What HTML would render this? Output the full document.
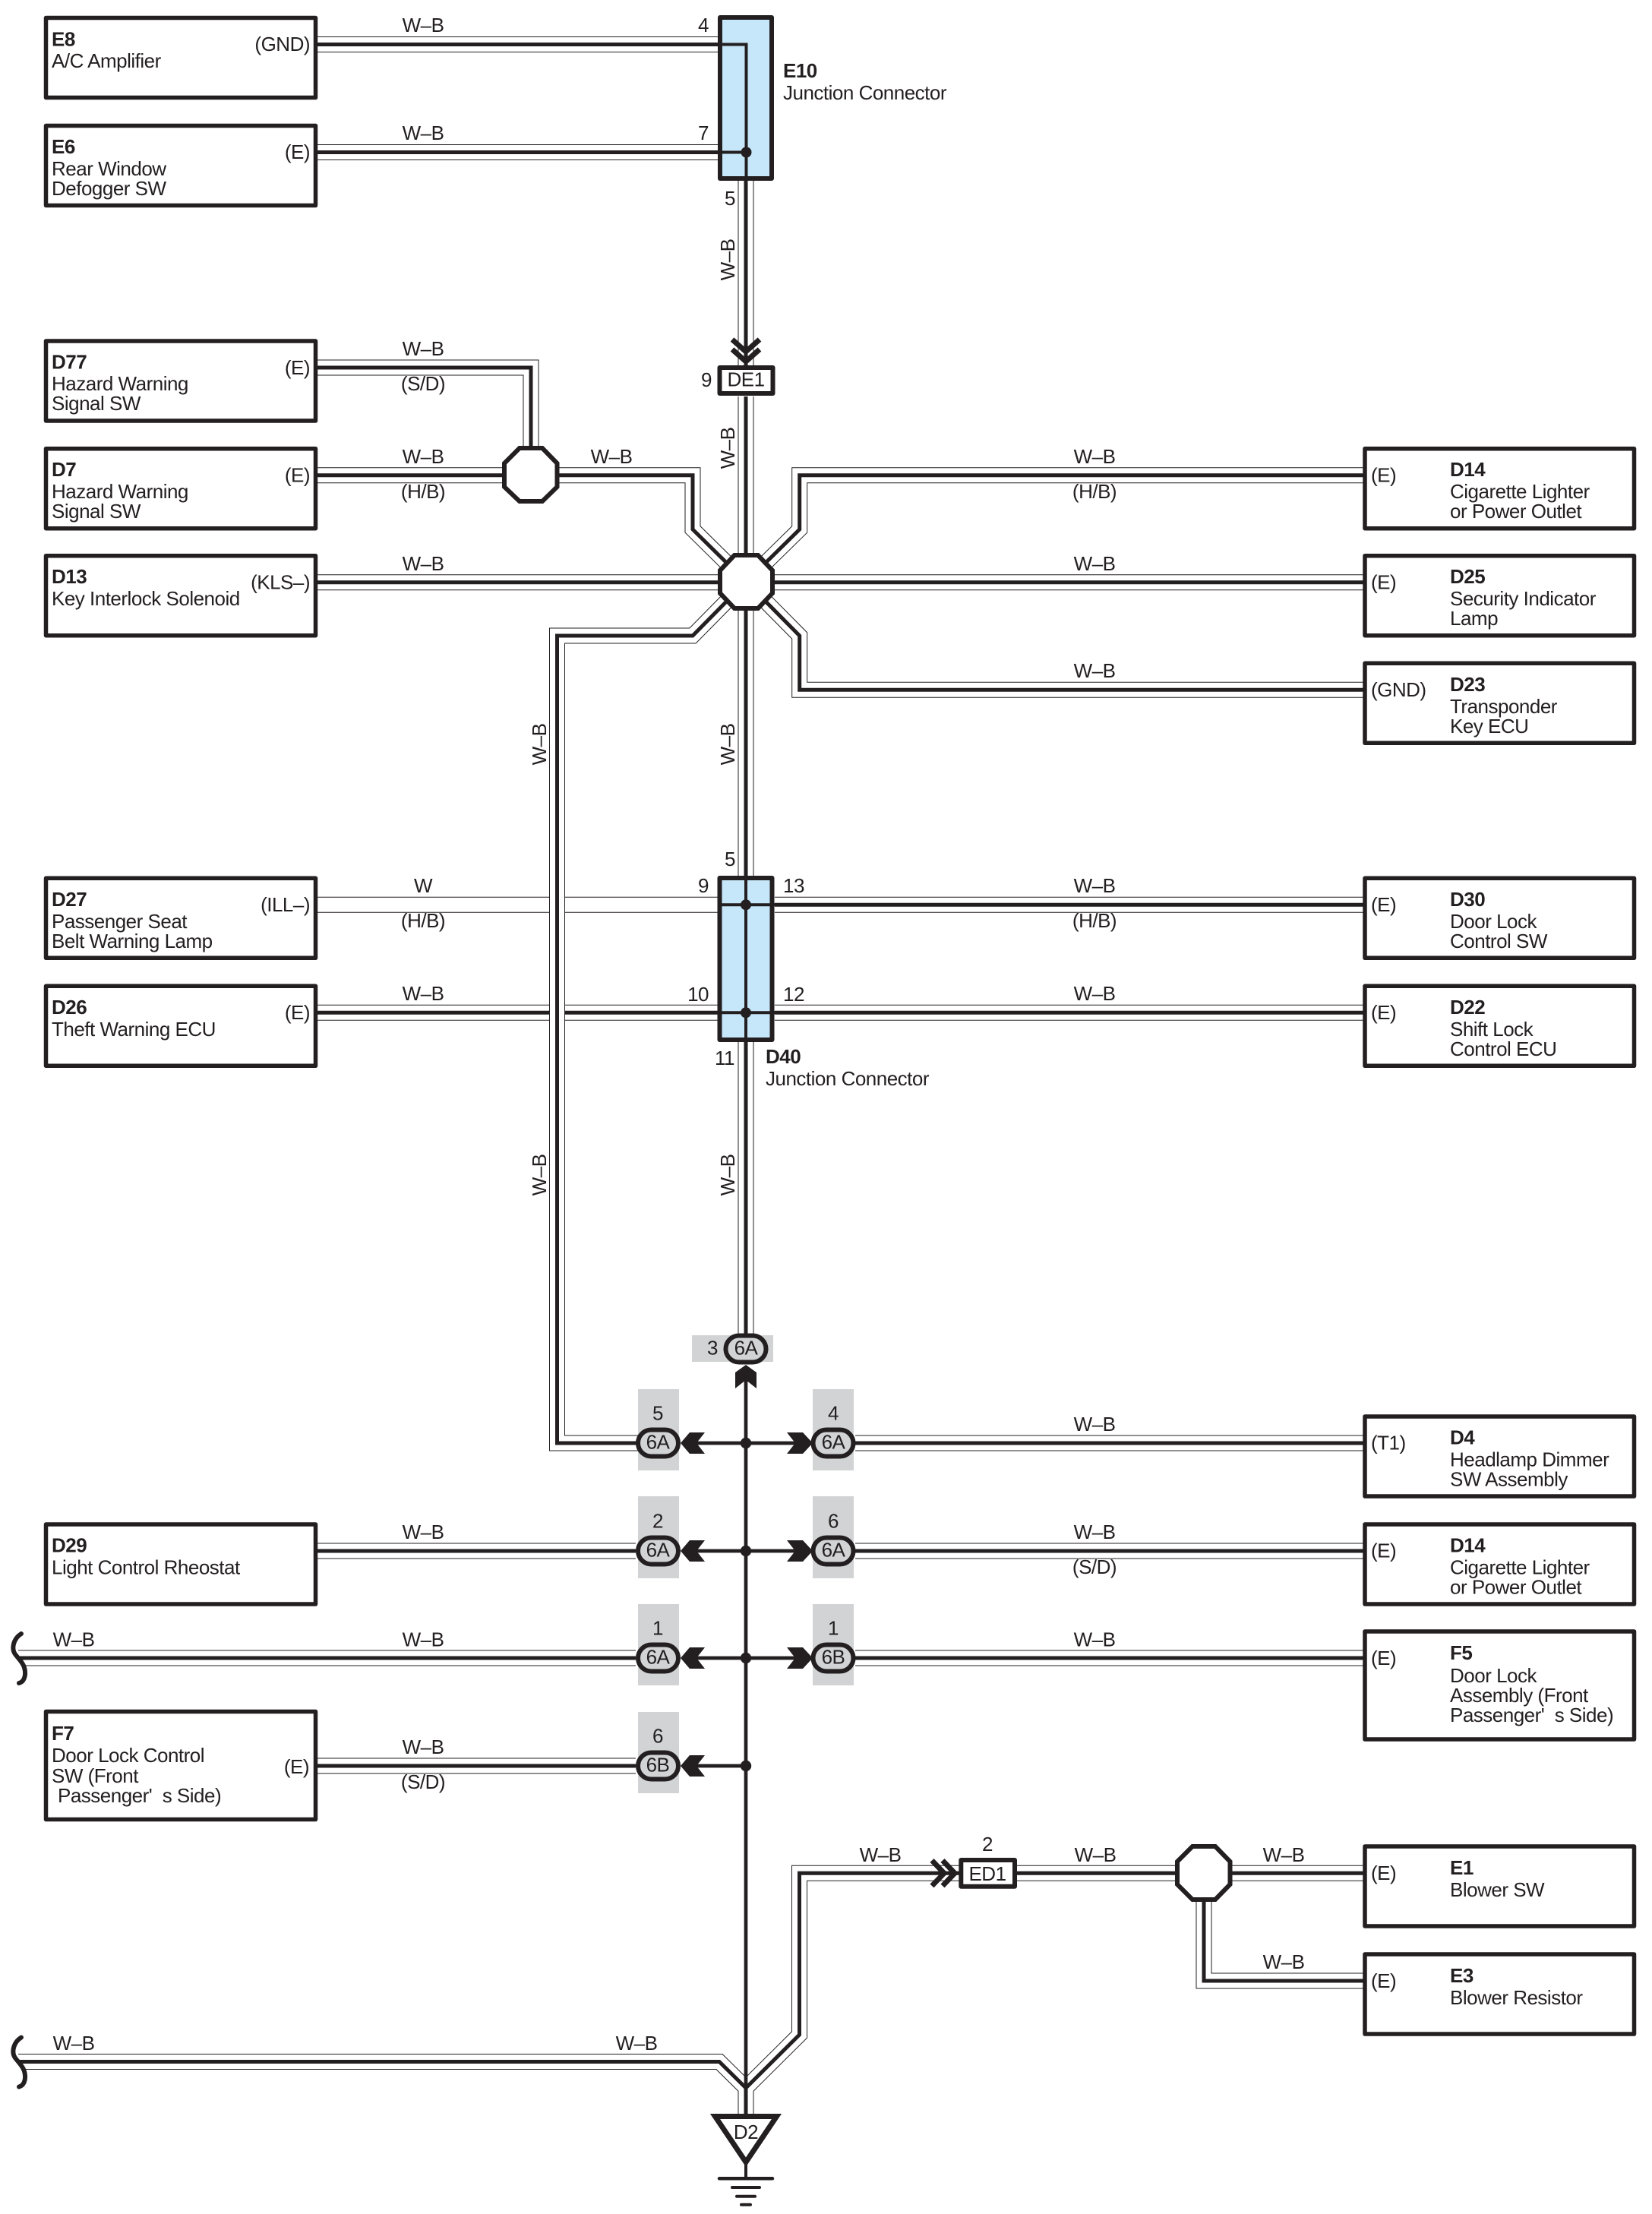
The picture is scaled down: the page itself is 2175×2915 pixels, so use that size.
<!DOCTYPE html>
<html>
<head>
<meta charset="utf-8">
<title>Wiring Diagram</title>
<style>
html,body{margin:0;padding:0;background:#fff}
svg{display:block}
text{font-family:"Liberation Sans",sans-serif;font-size:26px;fill:#231f20;letter-spacing:-.5px}
.b{font-weight:bold}
.m{text-anchor:middle}
.e{text-anchor:end}
.box{fill:#fff;stroke:#231f20;stroke-width:5.5;stroke-linejoin:round}
.jc{fill:#c6e7f9;stroke:#231f20;stroke-width:6;stroke-linejoin:round}
.oct{fill:#fff;stroke:#231f20;stroke-width:6;stroke-linejoin:miter}
.ov{fill:#d1d3d4;stroke:#231f20;stroke-width:6}
.g{fill:#d1d3d4}
.ar{fill:#231f20;stroke:none}
.tw{fill:none;stroke:#231f20;stroke-width:4}
.br{fill:none;stroke:#231f20;stroke-width:4.7}
.ch{fill:none;stroke:#231f20;stroke-width:7}
.d{fill:#231f20}
.gr{stroke:#231f20;stroke-linecap:round;fill:none}
</style>
</head>
<body>
<svg xmlns="http://www.w3.org/2000/svg" width="2175" height="2915" viewBox="0 0 2175 2915">
<rect width="2175" height="2915" fill="#fff"/>
<defs>
<g id="wa">
<path d="M416 58.5H945"/>
<path d="M416 200.5H945"/>
<path d="M982 238V481"/>
<path d="M982 522V1153"/>
<path d="M982 1372V1756"/>
<path d="M416 484H699V590"/>
<path d="M416 625.7H662"/>
<path d="M736 625.7H912V697L982 766"/>
<path d="M416 766.7H1796"/>
<path d="M1796 625.7H1052.7V697L982.5 766"/>
<path d="M1796 908.3H1052.7V837L982.5 766"/>
<path d="M1020 1191.3H1796"/>
<path d="M416 1333.3H945"/>
<path d="M1020 1333.3H1796"/>
<path d="M1126 1900H1796"/>
<path d="M416 2042H837"/>
<path d="M1126 2042H1796"/>
<path d="M24 2183H837"/>
<path d="M1126 2183H1796"/>
<path d="M416 2325H837"/>
<path d="M1270 2466.3H1052.5V2679L982 2749V2783"/>
<path d="M24 2714.500H947L982 2749V2783"/>
<path d="M1339 2466.3H1796"/>
<path d="M1585 2500V2608H1796"/>
</g>
<g id="wb">
<path d="M982 766L912 837H733.5V1900H840"/>
</g>
</defs>

<!-- D27 white wire -->
<path d="M416 1191.3H945" fill="none" stroke="#231f20" stroke-width="21"/>
<path d="M416 1191.3H945" fill="none" stroke="#fff" stroke-width="19"/>

<!-- wire group A -->
<use href="#wa" fill="none" stroke="#231f20" stroke-width="21"/>
<use href="#wa" fill="none" stroke="#fff" stroke-width="19"/>
<use href="#wa" fill="none" stroke="#231f20" stroke-width="5"/>
<!-- wire group B (crosses over) -->
<use href="#wb" fill="none" stroke="#231f20" stroke-width="21"/>
<use href="#wb" fill="none" stroke="#fff" stroke-width="19"/>
<use href="#wb" fill="none" stroke="#231f20" stroke-width="5"/>

<!-- left boxes -->
<rect class="box" x="60.5" y="23.5" width="355" height="105"/>
<rect class="box" x="60.5" y="165.5" width="355" height="105"/>
<rect class="box" x="60.5" y="449" width="355" height="105"/>
<rect class="box" x="60.5" y="590.7" width="355" height="105"/>
<rect class="box" x="60.5" y="731.7" width="355" height="105"/>
<rect class="box" x="60.5" y="1156.3" width="355" height="105"/>
<rect class="box" x="60.5" y="1298.3" width="355" height="105"/>
<rect class="box" x="60.5" y="2007" width="355" height="105"/>
<rect class="box" x="60.5" y="2253.5" width="355" height="142"/>
<!-- right boxes -->
<rect class="box" x="1797" y="590.7" width="354.500" height="105"/>
<rect class="box" x="1797" y="731.7" width="354.500" height="105"/>
<rect class="box" x="1797" y="873.3" width="354.500" height="105"/>
<rect class="box" x="1797" y="1156.3" width="354.500" height="105"/>
<rect class="box" x="1797" y="1298.3" width="354.500" height="105"/>
<rect class="box" x="1797" y="1865" width="354.500" height="105"/>
<rect class="box" x="1797" y="2007" width="354.500" height="105"/>
<rect class="box" x="1797" y="2148" width="354.500" height="142"/>
<rect class="box" x="1797" y="2431" width="354.500" height="105"/>
<rect class="box" x="1797" y="2573" width="354.500" height="105"/>

<!-- E10 -->
<rect class="jc" x="948" y="23" width="68" height="212"/>
<path class="tw" d="M945 58.5H982.5V238M945 200.5H982.5"/>
<circle class="d" cx="982.5" cy="200.5" r="7"/>
<!-- D40 -->
<rect class="jc" x="947.5" y="1156" width="69" height="213"/>
<path class="tw" d="M982 1153V1372M945 1191.3H1020M945 1333.3H1020"/>
<circle class="d" cx="982" cy="1191.3" r="7"/>
<circle class="d" cx="982" cy="1333.3" r="7"/>

<!-- DE1 -->
<path class="ch" d="M964 447L982 463L1000 447M964 460L982 476L1000 460"/>
<rect class="box" x="947.500" y="484" width="70" height="34" style="stroke-width:6"/>
<text class="m" x="982" y="508.500">DE1</text>

<!-- ED1 -->
<path class="ch" d="M1227 2449.500L1243 2466.300L1227 2483M1241 2449.500L1257 2466.300L1241 2483"/>
<rect class="box" x="1265.300" y="2449" width="70.700" height="34.700" style="stroke-width:6"/>
<text class="m" x="1300" y="2476">ED1</text>
<text class="m" x="1300" y="2437">2</text>

<!-- octagons -->
<polygon class="oct" points="684,590 714,590 733.500,610 733.500,641 714,660 684,660 664,641 664,610"/>
<polygon class="oct" points="967,731 998,731 1017,751 1017,781 998,801 967,801 948,781 948,751"/>
<polygon class="oct" points="1570,2431 1600,2431 1619.500,2451 1619.500,2481 1600,2501 1570,2501 1550,2481 1550,2451"/>

<!-- trunk below 6A -->
<path d="M982 1815V2750" fill="none" stroke="#231f20" stroke-width="4.700"/>

<!-- gray backgrounds -->
<rect class="g" x="911" y="1758" width="107" height="35"/>
<rect class="g" x="840" y="1829" width="54" height="107"/>
<rect class="g" x="840" y="1970" width="54" height="108"/>
<rect class="g" x="840" y="2112" width="54" height="107"/>
<rect class="g" x="840" y="2254" width="54" height="107"/>
<rect class="g" x="1070" y="1829" width="54" height="107"/>
<rect class="g" x="1070" y="1970" width="54" height="108"/>
<rect class="g" x="1070" y="2112" width="54" height="107"/>

<!-- ovals -->
<rect class="ov" x="955.500" y="1758.500" width="53" height="35" rx="17.500"/>
<rect class="ov" x="840" y="1882.500" width="53" height="35" rx="17.500"/>
<rect class="ov" x="840" y="2024.500" width="53" height="35" rx="17.500"/>
<rect class="ov" x="840" y="2165.500" width="53" height="35" rx="17.500"/>
<rect class="ov" x="840" y="2307.500" width="53" height="35" rx="17.500"/>
<rect class="ov" x="1070.500" y="1882.500" width="53" height="35" rx="17.500"/>
<rect class="ov" x="1070.500" y="2024.500" width="53" height="35" rx="17.500"/>
<rect class="ov" x="1070.500" y="2165.500" width="53" height="35" rx="17.500"/>

<!-- branch wires + arrows + dots -->
<path class="br" d="M915 1900H1050M915 2042H1050M915 2183H1050M915 2325H982"/>
<polygon class="ar" points="982,1797 996,1807 996,1828 982,1817 968,1828 968,1807"/>
<polygon class="ar" points="896,1900 908,1886 928,1886 917,1900 928,1914 908,1914"/>
<polygon class="ar" points="896,2042 908,2028 928,2028 917,2042 928,2056 908,2056"/>
<polygon class="ar" points="896,2183 908,2169 928,2169 917,2183 928,2197 908,2197"/>
<polygon class="ar" points="896,2325 908,2311 928,2311 917,2325 928,2339 908,2339"/>
<polygon class="ar" points="1070,1900 1057,1886 1036,1886 1047,1900 1036,1914 1057,1914"/>
<polygon class="ar" points="1070,2042 1057,2028 1036,2028 1047,2042 1036,2056 1057,2056"/>
<polygon class="ar" points="1070,2183 1057,2169 1036,2169 1047,2183 1036,2197 1057,2197"/>
<circle class="d" cx="982" cy="1900" r="7.200"/>
<circle class="d" cx="982" cy="2042" r="7.200"/>
<circle class="d" cx="982" cy="2183" r="7.200"/>
<circle class="d" cx="982" cy="2325" r="7.200"/>

<!-- connector labels -->
<text class="m" x="982" y="1783.500">6A</text>
<text class="m" x="938" y="1783.500">3</text>
<text class="m" x="866" y="1907.500">6A</text>
<text class="m" x="866" y="1869.500">5</text>
<text class="m" x="866" y="2049.500">6A</text>
<text class="m" x="866" y="2011.500">2</text>
<text class="m" x="866" y="2190.500">6A</text>
<text class="m" x="866" y="2152.500">1</text>
<text class="m" x="866" y="2332.500">6B</text>
<text class="m" x="866" y="2294.500">6</text>
<text class="m" x="1097" y="1907.500">6A</text>
<text class="m" x="1097" y="1869.500">4</text>
<text class="m" x="1097" y="2049.500">6A</text>
<text class="m" x="1097" y="2011.500">6</text>
<text class="m" x="1097" y="2190.500">6B</text>
<text class="m" x="1097" y="2152.500">1</text>

<!-- ground -->
<polygon points="941.500,2786.500 1022.500,2786.500 982,2846.700" fill="#fff" stroke="#231f20" stroke-width="7" stroke-linejoin="miter"/>
<text class="m" x="982" y="2816">D2</text>
<path d="M982 2848V2868" fill="none" stroke="#231f20" stroke-width="4"/>
<path class="gr" stroke-width="4.500" d="M947 2868.300H1017"/>
<path class="gr" stroke-width="4" d="M964 2880H1000M970 2891.700H994M976 2902.700H988"/>

<!-- break curves -->
<path d="M10 2150H28C17 2158 15 2171 20 2178C26 2186 34 2192 33 2205C32 2212 29 2215 25 2216H10Z" fill="#fff"/>
<path d="M28 2151C17 2158 15 2171 20 2178C26 2186 34 2192 33 2205C32 2212 29 2215 25 2216" fill="none" stroke="#231f20" stroke-width="6" stroke-linecap="round"/>
<path d="M10 2681.500H28C17 2689.500 15 2702.500 20 2709.500C26 2717.500 34 2723.500 33 2736.500C32 2743.500 29 2746.500 25 2747.500H10Z" fill="#fff"/>
<path d="M28 2682.500C17 2689.500 15 2702.500 20 2709.500C26 2717.500 34 2723.500 33 2736.500C32 2743.500 29 2746.500 25 2747.500" fill="none" stroke="#231f20" stroke-width="6" stroke-linecap="round"/>

<!-- left box texts -->
<text class="b" x="68" y="60.500">E8</text>
<text x="68" y="89">A/C Amplifier</text>
<text class="e" x="408" y="67">(GND)</text>

<text class="b" x="68" y="202">E6</text>
<text x="68" y="231">Rear Window</text>
<text x="68" y="257">Defogger SW</text>
<text class="e" x="408" y="209">(E)</text>

<text class="b" x="68" y="485.500">D77</text>
<text x="68" y="514">Hazard Warning</text>
<text x="68" y="540">Signal SW</text>
<text class="e" x="408" y="493">(E)</text>

<text class="b" x="68" y="627">D7</text>
<text x="68" y="656">Hazard Warning</text>
<text x="68" y="682">Signal SW</text>
<text class="e" x="408" y="634.500">(E)</text>

<text class="b" x="68" y="768">D13</text>
<text x="68" y="797">Key Interlock Solenoid</text>
<text class="e" x="408" y="775.500">(KLS–)</text>

<text class="b" x="68" y="1193">D27</text>
<text x="68" y="1222">Passenger Seat</text>
<text x="68" y="1248">Belt Warning Lamp</text>
<text class="e" x="408" y="1200">(ILL–)</text>

<text class="b" x="68" y="1335">D26</text>
<text x="68" y="1364">Theft Warning ECU</text>
<text class="e" x="408" y="1342">(E)</text>

<text class="b" x="68" y="2043.500">D29</text>
<text x="68" y="2072.500">Light Control Rheostat</text>

<text class="b" x="68" y="2291">F7</text>
<text x="68" y="2320">Door Lock Control</text>
<text x="68" y="2347">SW (Front</text>
<text x="76" y="2373">Passenger'&#160;&#160;s Side)</text>
<text class="e" x="407" y="2335">(E)</text>

<!-- right box texts -->
<text class="b" x="1909" y="627">D14</text>
<text x="1909" y="656">Cigarette Lighter</text>
<text x="1909" y="682">or Power Outlet</text>
<text x="1805" y="634.500">(E)</text>

<text class="b" x="1909" y="768">D25</text>
<text x="1909" y="797">Security Indicator</text>
<text x="1909" y="823">Lamp</text>
<text x="1805" y="775.500">(E)</text>

<text class="b" x="1909" y="910">D23</text>
<text x="1909" y="939">Transponder</text>
<text x="1909" y="965">Key ECU</text>
<text x="1805" y="917">(GND)</text>

<text class="b" x="1909" y="1193">D30</text>
<text x="1909" y="1222">Door Lock</text>
<text x="1909" y="1248">Control SW</text>
<text x="1805" y="1200">(E)</text>

<text class="b" x="1909" y="1335">D22</text>
<text x="1909" y="1364">Shift Lock</text>
<text x="1909" y="1390">Control ECU</text>
<text x="1805" y="1342">(E)</text>

<text class="b" x="1909" y="1901.500">D4</text>
<text x="1909" y="1930.500">Headlamp Dimmer</text>
<text x="1909" y="1956.500">SW Assembly</text>
<text x="1805" y="1908.500">(T1)</text>

<text class="b" x="1909" y="2043.500">D14</text>
<text x="1909" y="2072.500">Cigarette Lighter</text>
<text x="1909" y="2098.500">or Power Outlet</text>
<text x="1805" y="2050.500">(E)</text>

<text class="b" x="1909" y="2185">F5</text>
<text x="1909" y="2215">Door Lock</text>
<text x="1909" y="2241">Assembly (Front</text>
<text x="1909" y="2267">Passenger'&#160;&#160;s Side)</text>
<text x="1805" y="2192">(E)</text>

<text class="b" x="1909" y="2468">E1</text>
<text x="1909" y="2497">Blower SW</text>
<text x="1805" y="2475">(E)</text>

<text class="b" x="1909" y="2610">E3</text>
<text x="1909" y="2639">Blower Resistor</text>
<text x="1805" y="2617">(E)</text>

<!-- junction labels -->
<text class="b" x="1031" y="102">E10</text>
<text x="1031" y="131">Junction Connector</text>
<text class="b" x="1008" y="1400">D40</text>
<text x="1008" y="1429">Junction Connector</text>

<!-- pin numbers -->
<text class="e" x="933" y="42">4</text>
<text class="e" x="933" y="184">7</text>
<text class="e" x="968" y="270">5</text>
<text class="e" x="937" y="509">9</text>
<text class="e" x="968" y="1140">5</text>
<text class="e" x="933" y="1175">9</text>
<text x="1031" y="1175">13</text>
<text class="e" x="933" y="1318">10</text>
<text x="1031" y="1318">12</text>
<text class="e" x="967" y="1402">11</text>

<!-- wire labels left -->
<text class="m" x="557" y="42">W–B</text>
<text class="m" x="557" y="184">W–B</text>
<text class="m" x="557" y="468">W–B</text>
<text class="m" x="557" y="514">(S/D)</text>
<text class="m" x="557" y="610">W–B</text>
<text class="m" x="557" y="656">(H/B)</text>
<text class="m" x="805" y="610">W–B</text>
<text class="m" x="557" y="751">W–B</text>
<text class="m" x="557" y="1175">W</text>
<text class="m" x="557" y="1221">(H/B)</text>
<text class="m" x="557" y="1317">W–B</text>
<text class="m" x="557" y="2026">W–B</text>
<text class="m" x="97" y="2167.500">W–B</text>
<text class="m" x="557" y="2167.500">W–B</text>
<text class="m" x="557" y="2309">W–B</text>
<text class="m" x="557" y="2355">(S/D)</text>
<text class="m" x="97" y="2699">W–B</text>
<text class="m" x="838" y="2699">W–B</text>

<!-- wire labels right -->
<text class="m" x="1441" y="610">W–B</text>
<text class="m" x="1441" y="656">(H/B)</text>
<text class="m" x="1441" y="751">W–B</text>
<text class="m" x="1441" y="892">W–B</text>
<text class="m" x="1441" y="1175">W–B</text>
<text class="m" x="1441" y="1221">(H/B)</text>
<text class="m" x="1441" y="1317">W–B</text>
<text class="m" x="1441" y="1884">W–B</text>
<text class="m" x="1441" y="2026">W–B</text>
<text class="m" x="1441" y="2072">(S/D)</text>
<text class="m" x="1441" y="2167.500">W–B</text>
<text class="m" x="1159" y="2451">W–B</text>
<text class="m" x="1442" y="2451">W–B</text>
<text class="m" x="1690" y="2451">W–B</text>
<text class="m" x="1690" y="2592">W–B</text>

<!-- vertical labels -->
<text class="m" transform="translate(967 342) rotate(-90)">W–B</text>
<text class="m" transform="translate(967 590) rotate(-90)">W–B</text>
<text class="m" transform="translate(967 980) rotate(-90)">W–B</text>
<text class="m" transform="translate(967 1547) rotate(-90)">W–B</text>
<text class="m" transform="translate(719 980) rotate(-90)">W–B</text>
<text class="m" transform="translate(719 1547) rotate(-90)">W–B</text>
</svg>
</body>
</html>
